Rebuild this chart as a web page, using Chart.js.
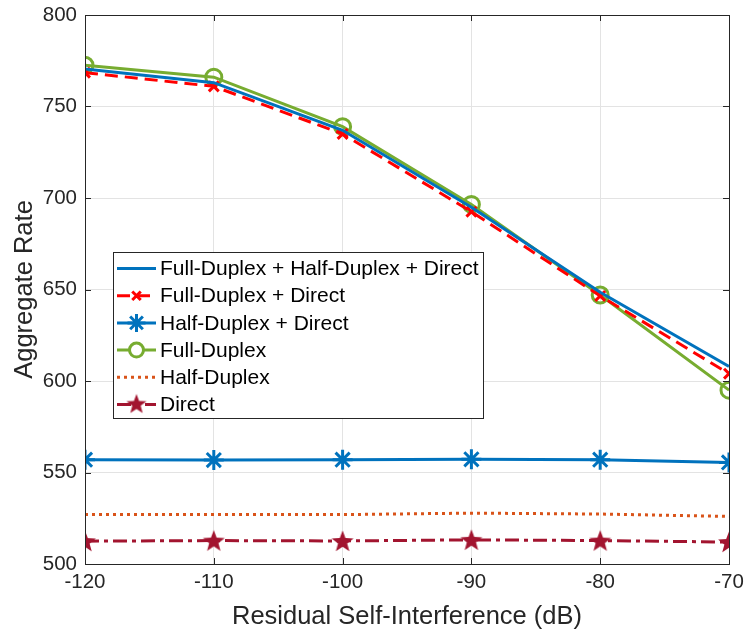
<!DOCTYPE html>
<html>
<head>
<meta charset="utf-8">
<script src="https://cdn.jsdelivr.net/npm/chart.js@4.4.0/dist/chart.umd.min.js"></script>
<style>
  body { margin: 0; background: #fff; }
  #wrap { width: 744px; height: 637px; }
</style>
</head>
<body>
<div id="wrap"><canvas id="myChart" width="744" height="637"></canvas></div>
<script>
// x axis: residual self-interference (dB)
const interference = [-120, -110, -100, -90, -80, -70];
const xTicks = [-120, -110, -100, -90, -80, -70];
const yTicks = [500, 550, 600, 650, 700, 750, 800];

// series values
const fdHdDirect = [770.5, 763, 737, 695, 648.5, 608];
const fdDirect = [768.5, 761, 735, 692.5, 646.5, 604];
const hdDirect = [557, 556.8, 557, 557.2, 557, 555.5];
const fullDuplex = [772.5, 766, 739, 696.5, 647, 595];
const halfDuplex = [527, 527, 527, 527.8, 527.3, 526];
const direct = [512.5, 512.8, 512.6, 513.2, 512.8, 512];

const labels = [
  "Full-Duplex + Half-Duplex + Direct",
  "Full-Duplex + Direct",
  "Half-Duplex + Direct",
  "Full-Duplex",
  "Half-Duplex",
  "Direct",
];

const BLUE = "#0072BD", RED = "#FF0000", GREEN = "#77AC30", ORANGE = "#D95319", DARKRED = "#A2142F";
const TXT = "#262626";
const FONT = "'Liberation Sans', Arial, sans-serif";

// filled pentagram marker for "Direct"
const makeStar = (size, color) => {
  const c = document.createElement("canvas");
  c.width = size; c.height = size;
  const g = c.getContext("2d");
  const cx = size / 2, cy = size / 2 + 1, R = size / 2 - 0.5, r = R * 0.42;
  g.beginPath();
  for (let i = 0; i < 10; i++) {
    const rad = i % 2 === 0 ? R : r;
    const a = -Math.PI / 2 + (i * Math.PI) / 5;
    const px = cx + rad * Math.cos(a), py = cy + rad * Math.sin(a);
    if (i === 0) g.moveTo(px, py); else g.lineTo(px, py);
  }
  g.closePath();
  g.fillStyle = color;
  g.fill();
  return c;
};
const starImg = makeStar(24, DARKRED);
const starSmall = makeStar(22, DARKRED);

const pts = (ys) => interference.map((x, i) => ({ x: x, y: ys[i] }));

const datasets = [
  { label: labels[0], data: pts(fdHdDirect), borderColor: BLUE, borderWidth: 3, pointRadius: 0 },
  { label: labels[1], data: pts(fdDirect), borderColor: RED, borderWidth: 3, borderDash: [13, 7],
    pointStyle: "crossRot", pointRadius: 7, pointBorderWidth: 3, pointBorderColor: RED },
  { label: labels[2], data: pts(hdDirect), borderColor: BLUE, borderWidth: 3,
    pointStyle: "star", pointRadius: 10, pointBorderWidth: 3, pointBorderColor: BLUE },
  { label: labels[3], data: pts(fullDuplex), borderColor: GREEN, borderWidth: 3,
    pointStyle: "circle", pointRadius: 8, pointBorderWidth: 3, pointBorderColor: GREEN, pointBackgroundColor: "rgba(0,0,0,0)" },
  { label: labels[4], data: pts(halfDuplex), borderColor: ORANGE, borderWidth: 3, borderDash: [3, 4], pointRadius: 0 },
  { label: labels[5], data: pts(direct), borderColor: DARKRED, borderWidth: 3, borderDash: [14, 5, 4, 5],
    pointStyle: starImg, pointRadius: 12 },
];

// MATLAB style box around the axes with inward ticks
const boxPlugin = {
  id: "box",
  afterDatasetsDraw(chart) {
    const { ctx, chartArea: a, scales } = chart;
    ctx.save();
    ctx.strokeStyle = TXT;
    ctx.lineWidth = 1;
    ctx.beginPath();
    xTicks.forEach((t) => {
      const px = Math.round(scales.x.getPixelForValue(t)) + 0.5;
      ctx.moveTo(px, a.bottom); ctx.lineTo(px, a.bottom - 6);
      ctx.moveTo(px, a.top); ctx.lineTo(px, a.top + 6);
    });
    yTicks.forEach((t) => {
      const py = Math.round(scales.y.getPixelForValue(t)) + 0.5;
      ctx.moveTo(a.left, py); ctx.lineTo(a.left + 6, py);
      ctx.moveTo(a.right, py); ctx.lineTo(a.right - 6, py);
    });
    ctx.stroke();
    ctx.strokeRect(Math.round(a.left) + 0.5, Math.round(a.top) + 0.5,
      Math.round(a.right - a.left), Math.round(a.bottom - a.top));
    ctx.restore();
  },
};

// legend box inside the axes
const legendPlugin = {
  id: "innerLegend",
  afterDraw(chart) {
    const ctx = chart.ctx;
    const x0 = 113, y0 = 252, w = 370, h = 166, rowH = 27.2;
    ctx.save();
    ctx.fillStyle = "#fff";
    ctx.fillRect(x0, y0, w, h);
    ctx.strokeStyle = TXT;
    ctx.lineWidth = 1;
    ctx.strokeRect(x0 + 0.5, y0 + 0.5, w, h);
    ctx.font = "21px " + FONT;
    ctx.textBaseline = "middle";
    chart.data.datasets.forEach((ds, i) => {
      const cy = y0 + 16.5 + i * rowH;
      const lx1 = x0 + 4, lx2 = x0 + 43;
      ctx.strokeStyle = ds.borderColor;
      ctx.lineWidth = 3;
      ctx.setLineDash(ds.borderDash || []);
      ctx.beginPath();
      ctx.moveTo(lx1, cy); ctx.lineTo(lx2, cy);
      ctx.stroke();
      ctx.setLineDash([]);
      const mx = (lx1 + lx2) / 2;
      if (ds.pointStyle === starImg) {
        ctx.drawImage(starSmall, mx - 11, cy - 12);
      } else if (ds.pointRadius) {
        ctx.strokeStyle = ds.pointBorderColor;
        ctx.fillStyle = "#fff";
        ctx.lineWidth = ds.pointBorderWidth;
        Chart.helpers.drawPoint(ctx, {
          pointStyle: ds.pointStyle,
          radius: ds.pointStyle === "circle" ? 7 : ds.pointRadius - 1,
          borderWidth: ds.pointBorderWidth,
        }, mx, cy);
      }
      ctx.fillStyle = "#000";
      ctx.fillText(ds.label, x0 + 47, cy + 1);
    });
    ctx.restore();
  },
};

const noEdgePad = (s) => {
  s.paddingLeft = 0; s.paddingRight = 0; s.paddingTop = 0; s.paddingBottom = 0;
};

const chart = new Chart(document.getElementById("myChart"), {
  type: "line",
  data: { datasets: datasets },
  plugins: [boxPlugin, legendPlugin],
  options: {
    responsive: false,
    animation: false,
    layout: { padding: { top: 12, right: 15, left: 0, bottom: 0 } },
    elements: { line: { tension: 0, fill: false } },
    plugins: { legend: { display: false }, tooltip: { enabled: false } },
    scales: {
      x: {
        type: "linear",
        min: -120,
        max: -70,
        afterBuildTicks: (s) => { s.ticks = xTicks.map((v) => ({ value: v })); },
        afterFit: (s) => { s.height = 73; noEdgePad(s); },
        grid: { color: "#e3e3e3", drawTicks: false },
        border: { display: false },
        ticks: { color: TXT, padding: 6, font: { size: 20.5, family: FONT } },
        title: { display: true, text: "Residual Self-Interference (dB)", color: TXT, padding: { top: 4, bottom: 5 },
          font: { size: 25.5, family: FONT } },
      },
      y: {
        min: 500,
        max: 800,
        afterBuildTicks: (s) => { s.ticks = yTicks.map((v) => ({ value: v })); },
        afterFit: (s) => { s.width = 85; noEdgePad(s); },
        grid: { color: "#e3e3e3", drawTicks: false },
        border: { display: false },
        ticks: { color: TXT, padding: 8, font: { size: 20.5, family: FONT } },
        title: { display: true, text: "Aggregate Rate", color: TXT, padding: { top: 10, bottom: 0 },
          font: { size: 25.5, family: FONT } },
      },
    },
  },
});
</script>
</body>
</html>
